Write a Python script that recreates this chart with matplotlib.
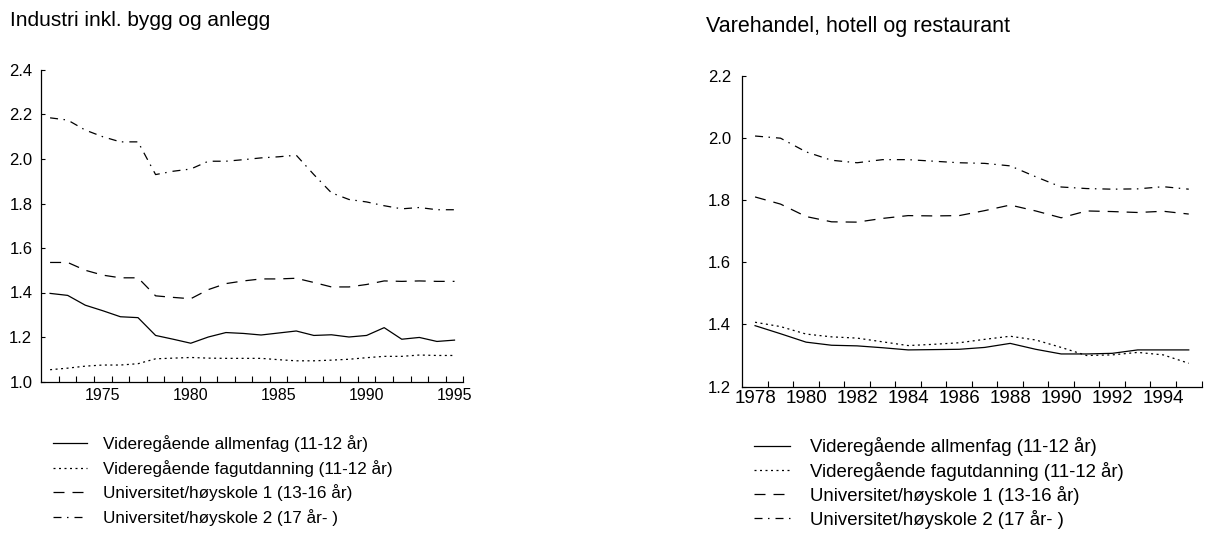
import matplotlib
matplotlib.use("Agg")
import matplotlib.pyplot as plt
from matplotlib.ticker import FixedLocator, FixedFormatter

plt.rcParams['font.family'] = ['Liberation Sans', 'DejaVu Sans']

W, H = 1231, 534
DPI = 100

series_labels = [
    "Videregående allmenfag (11-12 år)",
    "Videregående fagutdanning (11-12 år)",
    "Universitet/høyskole 1 (13-16 år)",
    "Universitet/høyskole 2 (17 år- )",
]

# Left panel: Industri inkl. bygg og anlegg
left_title = "Industri inkl. bygg og anlegg"
left_years = list(range(1972, 1996))
left_allmen = [1.396, 1.387, 1.343, 1.318, 1.291, 1.287, 1.207, 1.190, 1.172, 1.200,
               1.220, 1.216, 1.209, 1.218, 1.227, 1.207, 1.210, 1.200, 1.207, 1.242,
               1.190, 1.198, 1.180, 1.186]
left_fag = [1.053, 1.060, 1.069, 1.074, 1.074, 1.080, 1.102, 1.105, 1.108, 1.105,
            1.104, 1.104, 1.104, 1.098, 1.093, 1.093, 1.096, 1.100, 1.107, 1.113,
            1.113, 1.119, 1.117, 1.117]
left_uni1 = [1.535, 1.535, 1.500, 1.478, 1.466, 1.466, 1.385, 1.378, 1.372, 1.413,
             1.440, 1.452, 1.461, 1.461, 1.464, 1.445, 1.425, 1.425, 1.436, 1.452,
             1.450, 1.452, 1.450, 1.450]
left_uni2 = [2.185, 2.175, 2.130, 2.100, 2.077, 2.077, 1.930, 1.945, 1.955, 1.990,
             1.990, 1.997, 2.005, 2.010, 2.017, 1.930, 1.848, 1.818, 1.807, 1.790,
             1.776, 1.782, 1.772, 1.772]
left_xlabels = [1975, 1980, 1985, 1990, 1995]
left_yticks = [1.0, 1.2, 1.4, 1.6, 1.8, 2.0, 2.2, 2.4]

# Right panel: Varehandel, hotell og restaurant
right_title = "Varehandel, hotell og restaurant"
right_years = list(range(1978, 1996))
right_allmen = [1.396, 1.370, 1.343, 1.333, 1.331, 1.325, 1.318, 1.319, 1.320, 1.326,
                1.339, 1.320, 1.305, 1.305, 1.307, 1.318, 1.318, 1.318]
right_fag = [1.407, 1.393, 1.369, 1.360, 1.356, 1.344, 1.332, 1.336, 1.341, 1.352,
             1.362, 1.350, 1.326, 1.300, 1.302, 1.310, 1.302, 1.275]
right_uni1 = [1.810, 1.787, 1.747, 1.730, 1.729, 1.741, 1.750, 1.749, 1.750, 1.766,
              1.784, 1.765, 1.743, 1.765, 1.763, 1.760, 1.764, 1.755]
right_uni2 = [2.006, 1.999, 1.955, 1.928, 1.920, 1.930, 1.930, 1.925, 1.920, 1.918,
              1.910, 1.875, 1.842, 1.837, 1.835, 1.836, 1.843, 1.835]
right_xlabels = [1978, 1980, 1982, 1984, 1986, 1988, 1990, 1992, 1994]
right_yticks = [1.2, 1.4, 1.6, 1.8, 2.0, 2.2]

styles = [
    dict(linestyle='-'),
    dict(linestyle=(0, (1.6, 2.8))),
    dict(linestyle=(0, (8.8, 6.4))),
    dict(linestyle=(0, (6.4, 4.4, 1.2, 4.8))),
]
LW = 0.9

fig = plt.figure(figsize=(W / DPI, H / DPI), dpi=DPI)


def px_axes(x0, y_top, x1, y_bot):
    return fig.add_axes([x0 / W, 1 - y_bot / H, (x1 - x0) / W, (y_bot - y_top) / H])


def setup(ax, years, xlabels, yticks, fs_x, fs_y, xpad, ypad, ymin, ymax):
    ax.set_xlim(years[0] - 0.5, years[-1] + 0.5)
    ax.set_ylim(ymin, ymax)
    for s in ['top', 'right']:
        ax.spines[s].set_visible(False)
    for s in ['left', 'bottom']:
        ax.spines[s].set_linewidth(0.9)
    ax.xaxis.set_major_locator(FixedLocator(xlabels))
    ax.xaxis.set_major_formatter(FixedFormatter([str(v) for v in xlabels]))
    ax.xaxis.set_minor_locator(FixedLocator([y + 0.5 for y in years]))
    ax.tick_params(axis='x', which='major', length=0, labelsize=fs_x, pad=xpad)
    ax.tick_params(axis='x', which='minor', direction='in', length=4, width=0.8)
    ax.set_yticks(yticks)
    ax.set_yticklabels([f"{v:.1f}" for v in yticks])
    ax.tick_params(axis='y', direction='in', length=3, width=0.8, labelsize=fs_y, pad=ypad)


# Left axes
axL = px_axes(41.3, 70.0, 463.3, 381.5)
data_left = [left_allmen, left_fag, left_uni1, left_uni2]
linesL = []
for vals, st in zip(data_left, styles):
    ln, = axL.plot(left_years, vals, color='black', lw=LW, **st)
    linesL.append(ln)
setup(axL, left_years, left_xlabels, left_yticks, 11.5, 12, 5, 6.5, 1.0, 2.4)

# Right axes
axR = px_axes(742.3, 75.7, 1201.5, 386.6)
data_right = [right_allmen, right_fag, right_uni1, right_uni2]
linesR = []
for vals, st in zip(data_right, styles):
    ln, = axR.plot(right_years, vals, color='black', lw=LW, **st)
    linesR.append(ln)
setup(axR, right_years, right_xlabels, right_yticks, 13.5, 12, 2.5, 8, 1.2, 2.2)

# Titles
fig.text(10 / W, 1 - 25.7 / H, left_title, fontsize=15, ha='left', va='baseline')
fig.text(706 / W, 1 - 31.7 / H, right_title, fontsize=15.5, ha='left', va='baseline')

# Legends
legL = fig.legend(linesL, series_labels, loc='upper left',
                  bbox_to_anchor=(53 / W, 1 - 435.5 / H), frameon=False,
                  fontsize=12.3, handlelength=2.0, handletextpad=0.94,
                  labelspacing=0.44, borderpad=0, borderaxespad=0)
legR = fig.legend(linesR, series_labels, loc='upper left',
                  bbox_to_anchor=(754 / W, 1 - 437.5 / H), frameon=False,
                  fontsize=13.4, handlelength=1.94, handletextpad=1.07,
                  labelspacing=0.27, borderpad=0, borderaxespad=0)

fig.savefig("out.png", dpi=DPI)
